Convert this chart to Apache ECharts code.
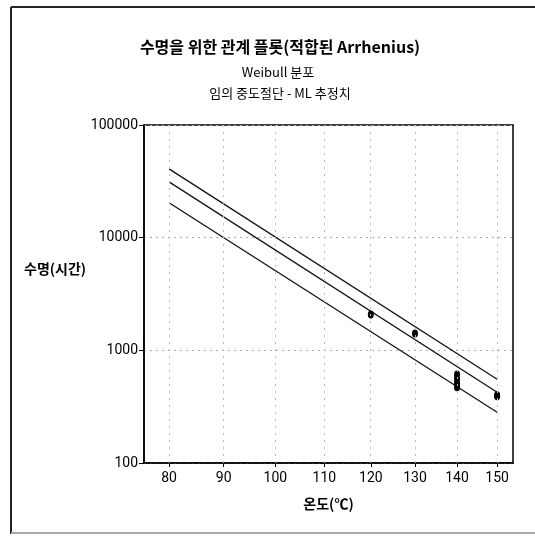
<!DOCTYPE html>
<html>
<head>
<meta charset="utf-8">
<script src="https://cdn.jsdelivr.net/npm/echarts@6/dist/echarts.min.js"></script>
<style>
  html, body { margin: 0; padding: 0; background: #fff; }
  #chart { width: 535px; height: 536px; }
</style>
</head>
<body>
<div id="chart"></div>
<script>
// Temperature ticks (°C) on the Arrhenius axis
const tempTicks = [80, 90, 100, 110, 120, 130, 140, 150];
// Fitted relation lines: temperatures and life (hours)
const fitTemps = [80, 150];
const upperLife = [40800, 553];
const medianLife = [31300, 425];
const lowerLife = [20400, 282];
// Observed failures
const failTemps = [120, 130, 140, 140, 140, 140, 150, 150];
const failLife = [2085, 1413, 610, 560, 510, 470, 392, 400];

// Arrhenius scale: x = 10000 / (T + 273.15), axis drawn inverted so T grows to the right
const arr = t => 10000 / (t + 273.15);
const invArr = x => 10000 / x - 273.15;
const T_MIN = 75.6, T_MAX = 154.1;

const lineSeries = (life) => ({
  type: 'line',
  data: fitTemps.map((t, i) => [arr(t), life[i]]),
  symbol: 'none',
  lineStyle: { color: '#111', width: 1.3 },
  z: 3
});

const chart = echarts.init(document.getElementById('chart'), null, { renderer: 'canvas' });
const FONT = '"Liberation Sans Narrow", "Roboto", sans-serif';
const KR = '"Noto Sans CJK KR"';

chart.setOption({
  backgroundColor: '#fff',
  animation: false,
  title: [
    { text: '수명을 위한 관계 플롯(적합된 Arrhenius)', left: 275, top: 34, textAlign: 'center',
      textStyle: { fontFamily: KR, fontSize: 16, fontWeight: 'bold', color: '#000' } },
    { text: 'Weibull 분포', left: 273, top: 61, textAlign: 'center',
      textStyle: { fontFamily: KR, fontSize: 13, fontWeight: 'normal', color: '#000' } },
    { text: '임의 중도절단 - ML 추정치', left: 275, top: 82, textAlign: 'center',
      textStyle: { fontFamily: KR, fontSize: 13, fontWeight: 'normal', color: '#000' } }
  ],
  graphic: [
    { type: 'line', shape: { x1: 11, y1: 7, x2: 540, y2: 7 }, style: { stroke: '#222', lineWidth: 2 } },
    { type: 'line', shape: { x1: 11, y1: 7, x2: 11, y2: 534 }, style: { stroke: '#222', lineWidth: 2 } },
    { type: 'line', shape: { x1: 11, y1: 533, x2: 540, y2: 533 }, style: { stroke: '#aaa', lineWidth: 2 } },
    { type: 'text', left: 24, top: 262,
      style: { text: '수명(시간)', font: 'bold 14px "Noto Sans CJK KR"', fill: '#000' } }
  ],
  grid: { left: 144, top: 125, right: 22, bottom: 73, show: true, borderColor: '#000', borderWidth: 1.5 },
  xAxis: {
    type: 'value',
    inverse: true,
    min: arr(T_MAX),
    max: arr(T_MIN),
    name: '온도(℃)',
    nameLocation: 'middle',
    nameGap: 34,
    nameTextStyle: { fontFamily: KR, fontSize: 14, fontWeight: 'bold', color: '#000' },
    axisLine: { lineStyle: { color: '#000', width: 1.5 } },
    axisTick: { show: true, length: 4, customValues: tempTicks.map(arr), lineStyle: { color: '#000' } },
    axisLabel: {
      customValues: tempTicks.map(arr),
      formatter: v => String(Math.round(invArr(v))),
      fontFamily: FONT, fontSize: 14, color: '#000', margin: 8
    },
    splitLine: { show: false }
  },
  yAxis: {
    type: 'log',
    logBase: 10,
    min: 100,
    max: 100000,
    axisLine: { lineStyle: { color: '#000', width: 1.5 } },
    axisTick: { show: true, length: 5, lineStyle: { color: '#000' } },
    axisLabel: { formatter: v => String(Math.round(v)), fontFamily: FONT, fontSize: 14, color: '#000', margin: 6 },
    minorTick: { show: false },
    splitLine: { show: true, lineStyle: { color: '#aaa', type: [2, 4], width: 1 } }
  },
  series: [
    lineSeries(upperLife),
    lineSeries(medianLife),
    lineSeries(lowerLife),
    {
      // dotted vertical grid lines at each temperature tick
      type: 'line',
      data: [],
      silent: true,
      markLine: {
        symbol: 'none',
        silent: true,
        label: { show: false },
        lineStyle: { color: '#bbb', type: [2, 5], width: 1 },
        data: tempTicks.map(t => ({ xAxis: arr(t) }))
      }
    },
    {
      type: 'scatter',
      data: failTemps.map((t, i) => [arr(t), failLife[i]]),
      symbol: 'circle',
      symbolSize: [6, 8],
      itemStyle: { color: '#000', opacity: 1 },
      z: 4
    }
  ]
});
</script>
</body>
</html>
